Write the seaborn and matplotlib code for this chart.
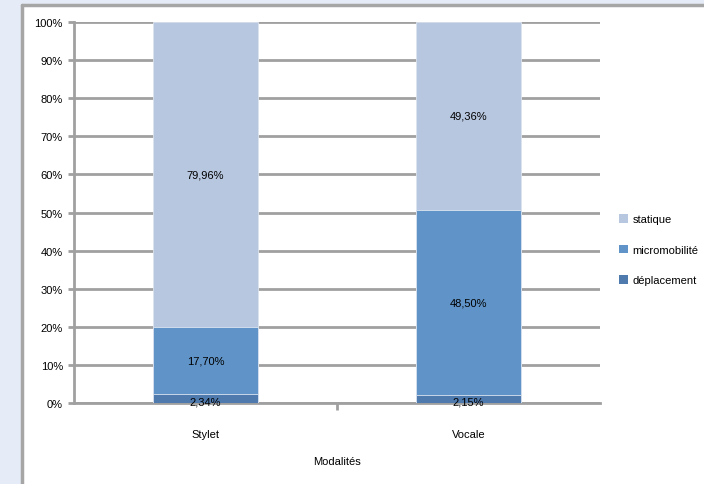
import matplotlib
matplotlib.use("Agg")
import matplotlib.pyplot as plt
import seaborn as sns
import pandas as pd
import numpy as np
from matplotlib.patches import Rectangle, Patch
from matplotlib.lines import Line2D

categories = ["Stylet", "Vocale"]
deplacement = [2.34, 2.15]
micromobilite = [17.70, 48.50]
statique = [79.96, 49.36]
series_names = ["déplacement", "micromobilité", "statique"]
colors = {"déplacement": "#4F7AAE", "micromobilité": "#6094C8", "statique": "#B8C7E0"}
yticks = list(range(0, 101, 10))

sns.set_style("white")
plt.rcParams['font.family'] = ['Liberation Sans', 'DejaVu Sans']
plt.rcParams['text.color'] = 'black'
plt.rcParams['axes.labelcolor'] = 'black'
plt.rcParams['xtick.labelcolor'] = 'black'
plt.rcParams['ytick.labelcolor'] = 'black'
FS = 8

W, H = 704, 485
fig = plt.figure(figsize=(W / 100, H / 100), dpi=100)
fig.patch.set_facecolor("#E6ECF7")
# white chart area with gray border
fig.add_artist(Rectangle((22 / W, 0), 1 - 22 / W, (H - 6) / H, transform=fig.transFigure,
                         facecolor="white", edgecolor="none", zorder=0))
fig.add_artist(Line2D([22 / W, 22 / W], [0, (H - 6) / H], transform=fig.transFigure,
                      color="#A6A6A6", lw=2.5))
fig.add_artist(Line2D([22 / W, 1], [(H - 6) / H, (H - 6) / H], transform=fig.transFigure,
                      color="#A6A6A6", lw=2.5))

ax = fig.add_axes([74 / W, (H - 404) / H, (600 - 74) / W, (404 - 23) / H])
ax.set_facecolor("none")

df = pd.DataFrame({"cat": categories, "déplacement": deplacement,
                   "micromobilité": micromobilite, "statique": statique})
cum = df[series_names].cumsum(axis=1)

for name in reversed(series_names):
    sns.barplot(data=pd.DataFrame({"cat": categories, "v": cum[name]}), x="cat", y="v",
                color=colors[name], width=0.4, saturation=1, ax=ax,
                edgecolor="#DCE4F0", linewidth=0.6, zorder=3)

# value labels
for i in range(len(categories)):
    bottom = 0
    for name in series_names:
        v = df.loc[i, name]
        ax.text(i, bottom + v / 2 - (0.7 if name == "déplacement" else 0),
                f"{v:.2f}".replace(".", ",") + "%", ha="center", va="center",
                fontsize=FS, color="black", zorder=5)
        bottom += v

ax.set_xlim(-0.5, 1.5)
ax.set_ylim(0, 100)
ax.set_yticks(yticks)
ax.set_yticklabels([f"{t}%" for t in yticks], fontsize=FS)
ax.yaxis.grid(True, color="#A0A0A0", lw=2)
ax.set_axisbelow(True)
ax.tick_params(axis="y", length=4, width=2, color="#A0A0A0", pad=4, left=True)
ax.set_xticks([0, 1])
ax.set_xticklabels(categories, fontsize=FS)
ax.set_xticks([0.5], minor=True)
ax.tick_params(axis="x", which="major", length=0, pad=19)
ax.tick_params(axis="x", which="minor", length=5, width=2, color="#A0A0A0", bottom=True)
ax.set_xlabel("Modalités", fontsize=FS, labelpad=12)
ax.set_ylabel("")
for s in ["top", "right"]:
    ax.spines[s].set_visible(False)
for s in ["left", "bottom"]:
    ax.spines[s].set_color("#A0A0A0")
    ax.spines[s].set_linewidth(2)

handles = [Patch(facecolor=colors[n], edgecolor="none") for n in ["statique", "micromobilité", "déplacement"]]
fig.legend(handles, ["statique", "micromobilité", "déplacement"], loc="upper left",
           bbox_to_anchor=(609 / W, 1 - 205 / H), frameon=False, fontsize=FS,
           handlelength=0.8, handleheight=0.8, handletextpad=0.4, labelspacing=1.85)

fig.savefig("out.png", dpi=100)
